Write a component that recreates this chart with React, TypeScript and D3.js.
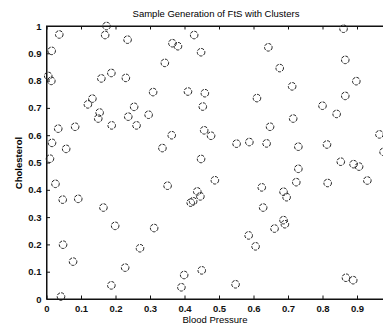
import { useEffect, useRef } from "react";
import * as d3 from "d3";

const title = "Sample Generation of FtS with Clusters";
const xLabel = "Blood Pressure";
const yLabel = "Cholesterol";

// the 1.0 tick of x falls past the right edge of the scan
const xTicks = [0, 0.1, 0.2, 0.3, 0.4, 0.5, 0.6, 0.7, 0.8, 0.9];
const yTicks = [0, 0.1, 0.2, 0.3, 0.4, 0.5, 0.6, 0.7, 0.8, 0.9, 1];

// one value per circle
const bloodPressure = [
  0.174, 0.037, 0.170, 0.235, 0.015, 0.005, 0.014, 0.159, 0.188, 0.230,
  0.309, 0.120, 0.133, 0.154, 0.150, 0.254, 0.237, 0.296, 0.261, 0.189,
  0.034, 0.083, 0.016, 0.057, 0.010, 0.428, 0.365, 0.381, 0.448, 0.643,
  0.343, 0.410, 0.459, 0.453, 0.610, 0.648, 0.457, 0.477, 0.363, 0.336,
  0.551, 0.588, 0.638, 0.448, 0.861, 0.866, 0.676, 0.898, 0.712, 0.866,
  0.800, 0.841, 0.715, 0.965, 0.730, 0.813, 0.853, 0.890, 0.906, 0.977,
  0.730, 0.488, 0.724, 0.815, 0.930, 0.624, 0.687, 0.696, 0.437, 0.446,
  0.425, 0.418, 0.628, 0.026, 0.047, 0.092, 0.165, 0.351, 0.199, 0.312,
  0.048, 0.271, 0.077, 0.188, 0.042, 0.586, 0.606, 0.399, 0.391, 0.548,
  0.687, 0.691, 0.868, 0.889, 0.661, 0.228, 0.450,
];

const cholesterol = [
  1.000, 0.969, 0.967, 0.950, 0.909, 0.817, 0.799, 0.808, 0.828, 0.810,
  0.758, 0.713, 0.734, 0.683, 0.661, 0.704, 0.668, 0.675, 0.636, 0.636,
  0.624, 0.631, 0.572, 0.550, 0.514, 0.967, 0.937, 0.926, 0.904, 0.922,
  0.865, 0.760, 0.754, 0.705, 0.736, 0.631, 0.618, 0.598, 0.600, 0.553,
  0.569, 0.575, 0.570, 0.513, 0.990, 0.876, 0.846, 0.798, 0.779, 0.744,
  0.708, 0.678, 0.661, 0.603, 0.558, 0.566, 0.503, 0.494, 0.485, 0.539,
  0.477, 0.435, 0.428, 0.425, 0.434, 0.409, 0.393, 0.373, 0.394, 0.376,
  0.358, 0.353, 0.335, 0.422, 0.364, 0.367, 0.335, 0.415, 0.268, 0.260,
  0.199, 0.186, 0.137, 0.050, 0.009, 0.233, 0.193, 0.088, 0.043, 0.054,
  0.289, 0.274, 0.078, 0.069, 0.258, 0.115, 0.105,
];

const W = 383;
const H = 328;

export default function App() {
  const ref = useRef<SVGSVGElement | null>(null);

  useEffect(() => {
    const svg = d3.select(ref.current).html("");
    const left = 46.5, top = 26, bottom = 299, right = 391.5;
    const font = "Liberation Sans, Arial, sans-serif";

    const x = d3.scaleLinear().domain([0, 1]).range([left, right]);
    const y = d3.scaleLinear().domain([0, 1]).range([bottom, top]);
    const fmt = (d: number) => (d === 0 || d === 1 ? String(d) : d.toFixed(1));

    svg.append("rect").attr("width", W).attr("height", H).attr("fill", "#fff");

    svg.append("text")
      .attr("x", 216).attr("y", 17)
      .attr("text-anchor", "middle")
      .attr("font-family", font)
      .attr("font-size", "9.5px")
      .text(title);

    // frame (right side runs off the picture)
    svg.append("rect")
      .attr("x", left).attr("y", top)
      .attr("width", right - left).attr("height", bottom - top)
      .attr("fill", "none").attr("stroke", "#111").attr("stroke-width", 1);

    const bottomAxis = svg.append("g")
      .attr("transform", `translate(0,${bottom})`)
      .call(d3.axisBottom(x).tickValues(xTicks).tickSizeInner(-3.5).tickSizeOuter(0).tickPadding(6).tickFormat(fmt as any));
    const topAxis = svg.append("g")
      .attr("transform", `translate(0,${top})`)
      .call(d3.axisTop(x).tickValues(xTicks).tickSizeInner(-3.5).tickSizeOuter(0).tickFormat(() => ""));
    const leftAxis = svg.append("g")
      .attr("transform", `translate(${left},0)`)
      .call(d3.axisLeft(y).tickValues(yTicks).tickSizeInner(-3.5).tickSizeOuter(0).tickPadding(5).tickFormat(fmt as any));

    [bottomAxis, topAxis, leftAxis].forEach(g => {
      g.select(".domain").attr("stroke", "#111");
      g.selectAll("line").attr("stroke", "#111");
      g.selectAll("text")
        .attr("fill", "#111")
        .attr("font-family", font)
        .attr("font-weight", "bold")
        .style("font-size", "9.5px");
    });

    svg.append("text")
      .attr("x", 215).attr("y", 323)
      .attr("text-anchor", "middle")
      .attr("font-family", font).attr("font-size", "9.5px")
      .text(xLabel);

    svg.append("text")
      .attr("transform", "rotate(-90)")
      .attr("x", -163).attr("y", 22)
      .attr("text-anchor", "middle")
      .attr("font-family", font).attr("font-size", "9.5px").attr("font-weight", "bold")
      .text(yLabel);

    svg.append("g")
      .selectAll("circle")
      .data(bloodPressure.map((bp, i) => ({ bp, ch: cholesterol[i] })))
      .enter()
      .append("circle")
        .attr("cx", d => x(d.bp))
        .attr("cy", d => y(d.ch))
        .attr("r", 3.8)
        .attr("fill", "none")
        .attr("stroke", "#222")
        .attr("stroke-width", 1)
        .attr("stroke-dasharray", "3.2,1.2");
  }, []);

  return (
    <svg
      ref={ref}
      width={W}
      height={H}
      style={{ position: "absolute", left: 0, top: 0, display: "block" }}
    />
  );
}
